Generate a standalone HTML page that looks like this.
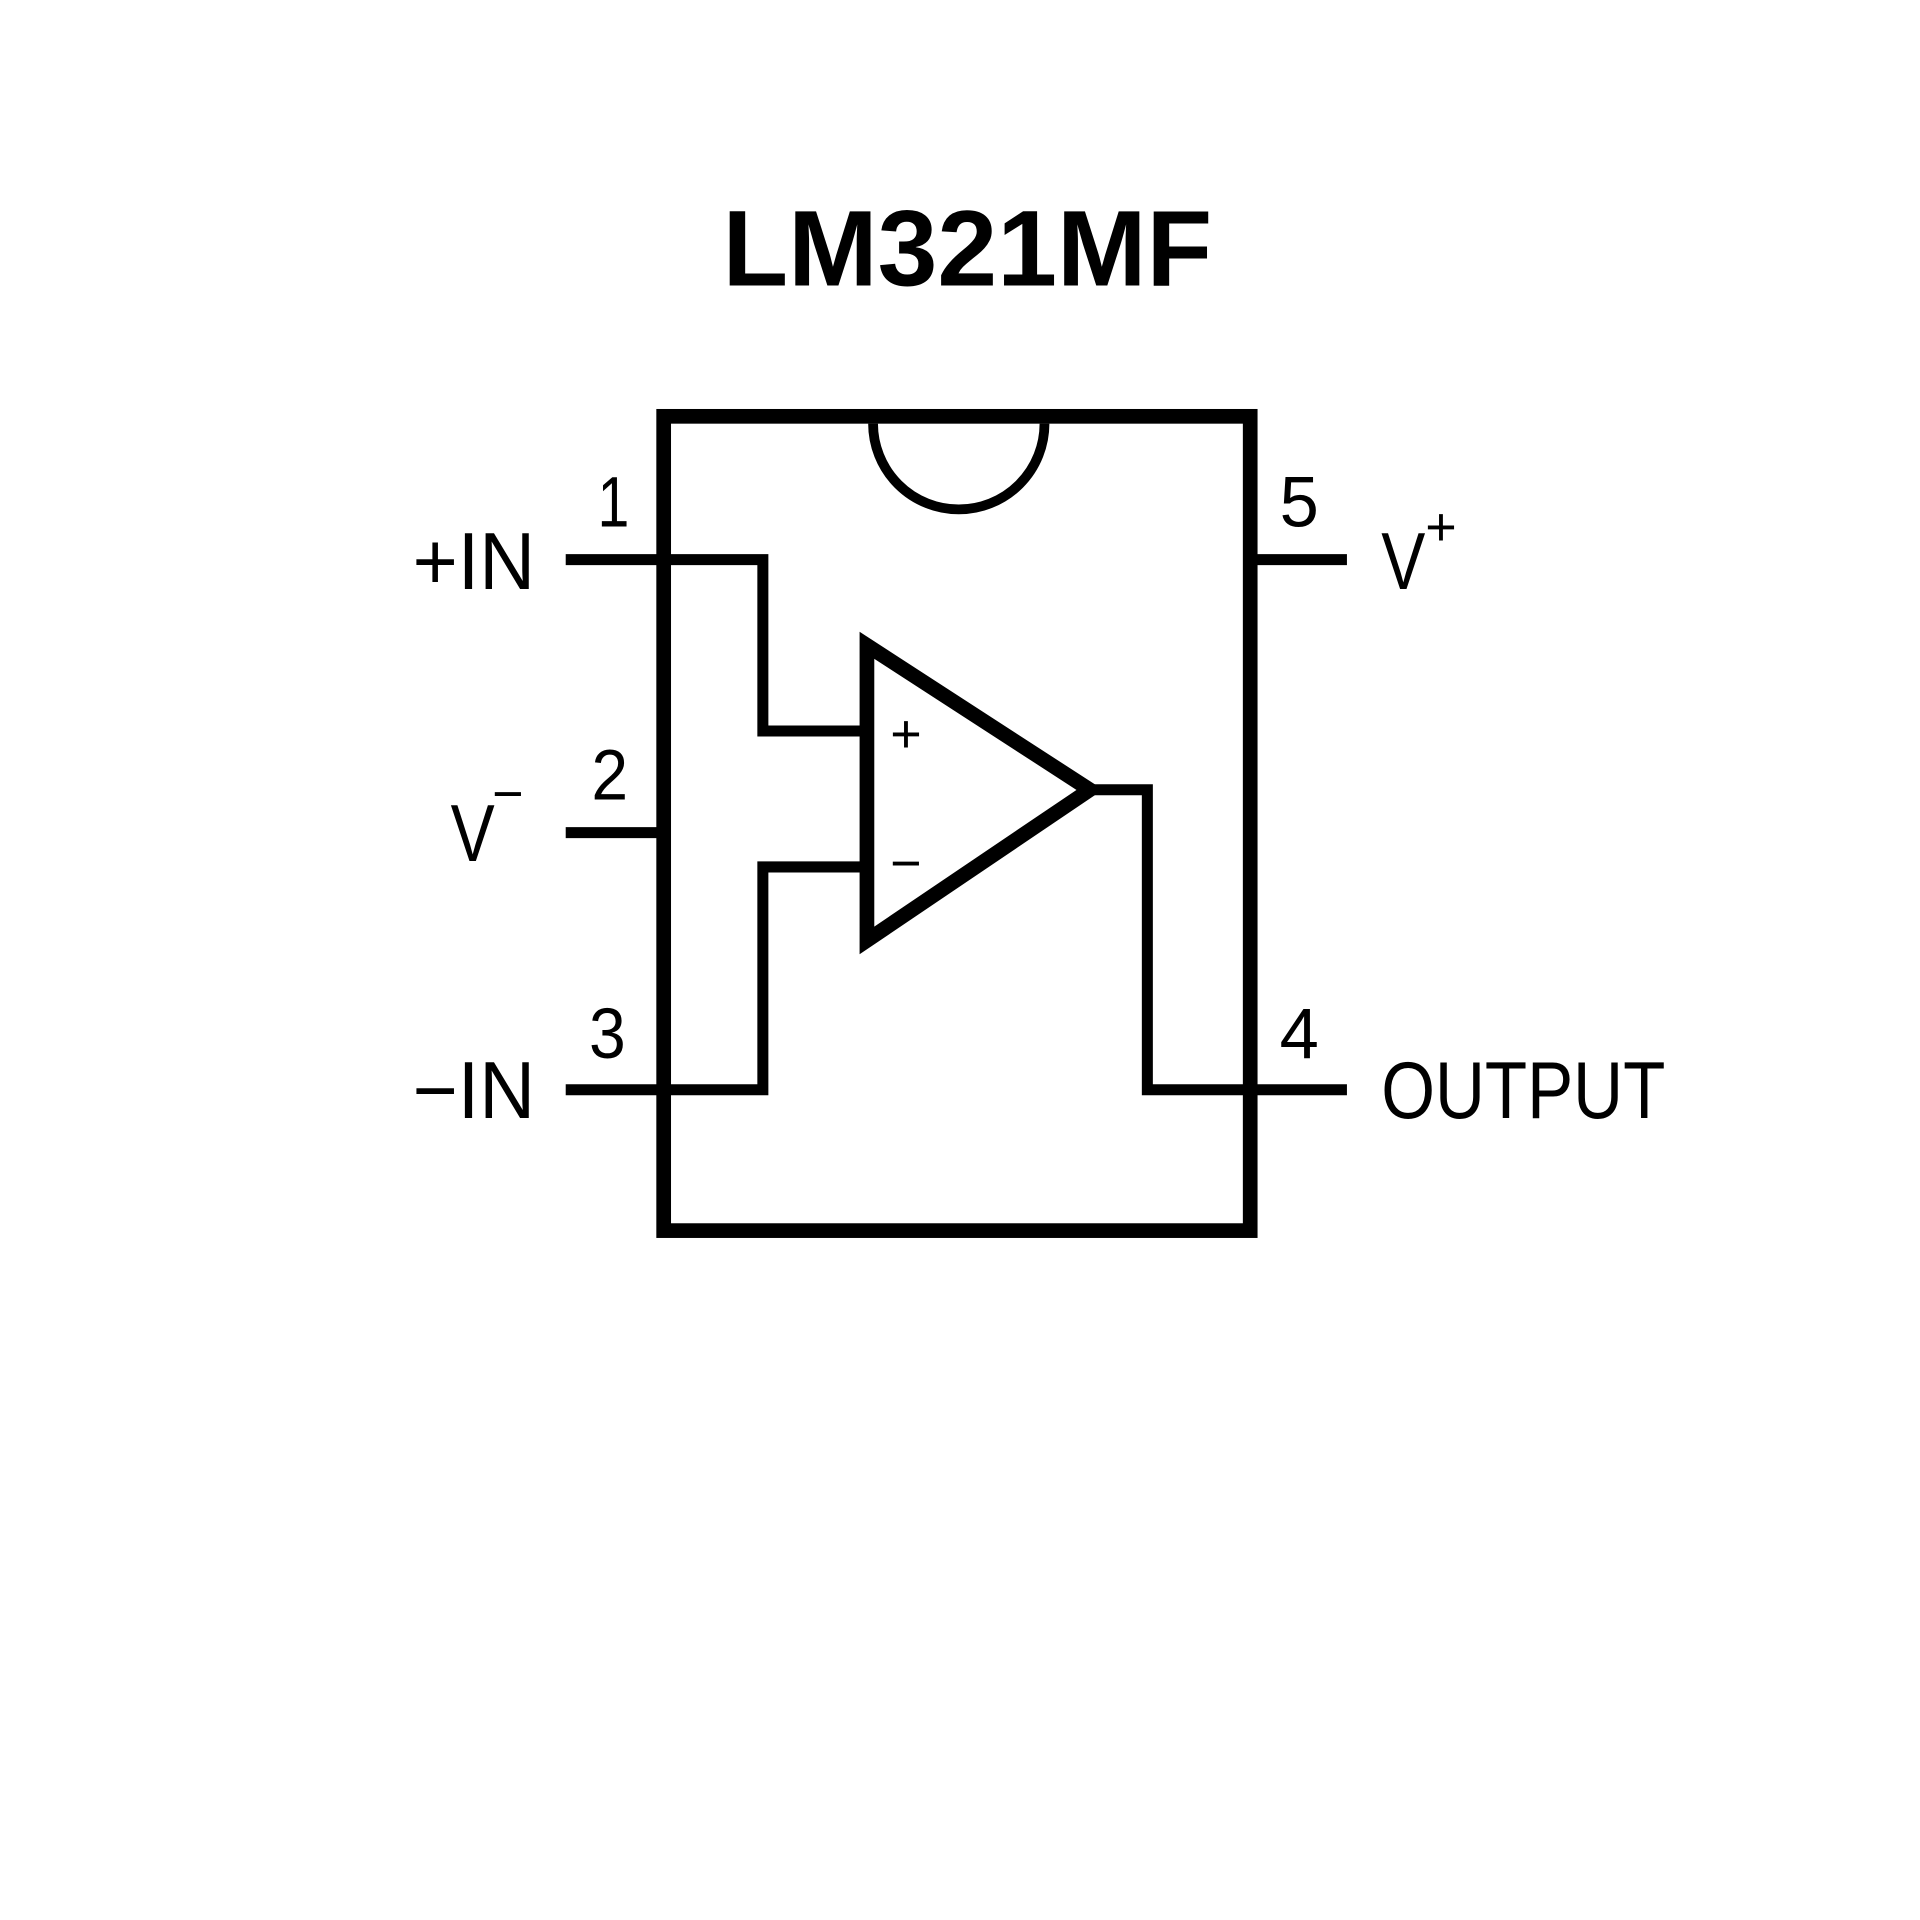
<!DOCTYPE html>
<html><head><meta charset="utf-8"><style>html,body{margin:0;padding:0;background:#fff}svg{display:block}</style></head>
<body>
<svg width="1920" height="1920" viewBox="0 0 1568 1568" xmlns="http://www.w3.org/2000/svg">
<rect width="1568" height="1568" fill="#fff"/>
<text x="790" y="233" text-anchor="middle" font-family="Liberation Sans, sans-serif" font-weight="bold" font-size="88" textLength="400" lengthAdjust="spacingAndGlyphs">LM321MF</text>
<g fill="none" stroke="#000" stroke-width="12" stroke-linecap="butt" stroke-linejoin="miter">
<rect x="542" y="340" width="479" height="665"/>
<path d="M713 346 A70 70 0 0 0 853 346" stroke-width="8"/>
</g>
<g fill="none" stroke="#000" stroke-width="9" stroke-linejoin="miter">
<path d="M462 457 H623 V597 H706"/>
<path d="M462 680 H542"/>
<path d="M462 890 H623 V708 H706"/>
<path d="M1021 457 H1100"/>
<path d="M890 645 H937 V890 H1100"/>
</g>
<path d="M708 527 L890 645 L708 768 Z" fill="none" stroke="#000" stroke-width="12" stroke-linejoin="miter"/>
<g font-family="Liberation Sans, sans-serif" font-size="58" fill="#000">
<text x="727" y="614" font-size="44">+</text>
<text x="727" y="720" font-size="44">−</text>
<text x="488" y="430" textLength="26" lengthAdjust="spacingAndGlyphs">1</text>
<text x="483" y="653" textLength="30" lengthAdjust="spacingAndGlyphs">2</text>
<text x="481" y="864" textLength="30" lengthAdjust="spacingAndGlyphs">3</text>
<text x="1045" y="430" textLength="32" lengthAdjust="spacingAndGlyphs">5</text>
<text x="1045" y="864" textLength="32" lengthAdjust="spacingAndGlyphs">4</text>
</g>
<g font-family="Liberation Sans, sans-serif" font-size="66" fill="#000">
<text x="337" y="481" textLength="100" lengthAdjust="spacingAndGlyphs">+IN</text>
<text x="337" y="913" textLength="100" lengthAdjust="spacingAndGlyphs">−IN</text>
<text x="368" y="703" textLength="36" lengthAdjust="spacingAndGlyphs">V</text>
<text x="402" y="663" font-size="44">−</text>
<text x="1128" y="481" textLength="36" lengthAdjust="spacingAndGlyphs">V</text>
<text x="1164" y="445" font-size="44">+</text>
<text x="1128" y="913" textLength="232" lengthAdjust="spacingAndGlyphs">OUTPUT</text>
</g>
</svg>
</body></html>
